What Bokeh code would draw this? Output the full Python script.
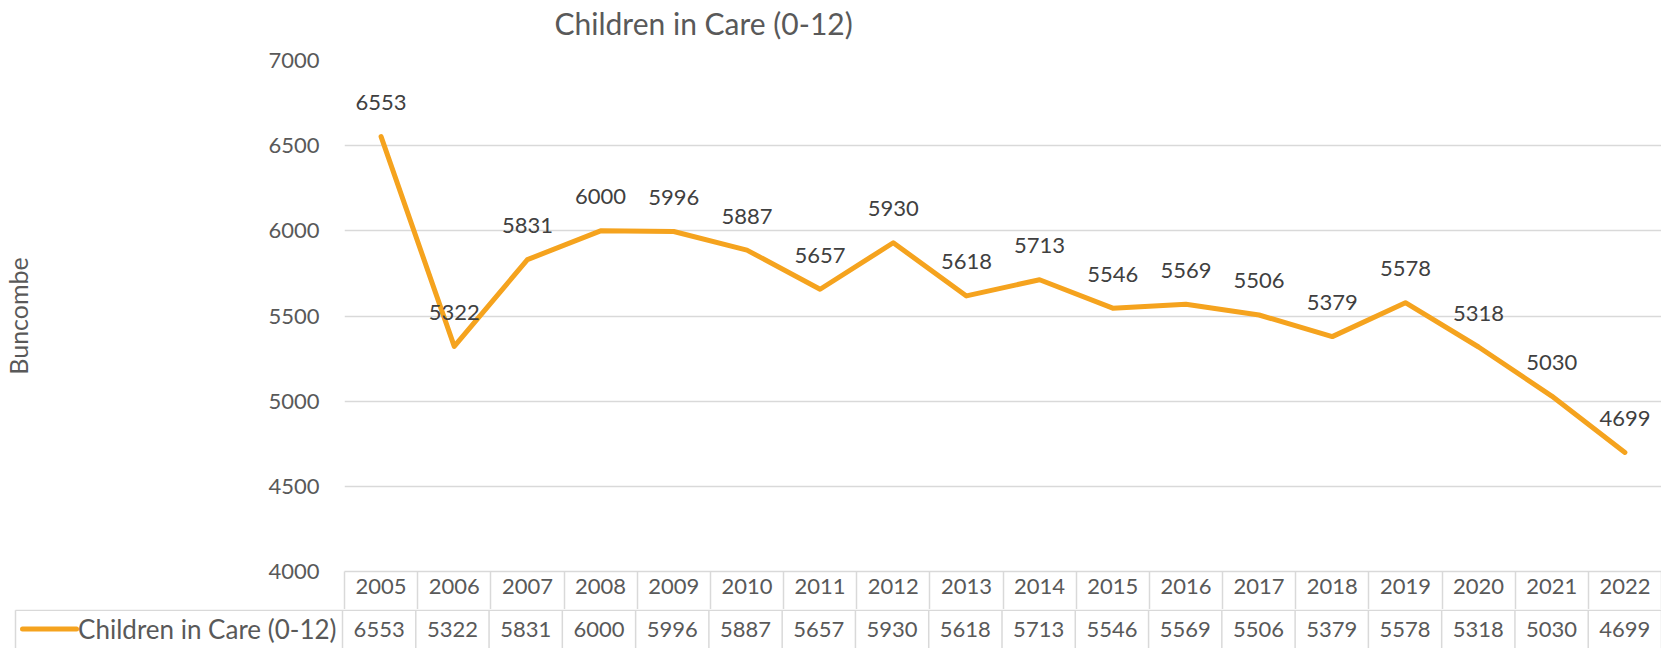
from bokeh.plotting import figure
from bokeh.models import Range1d, FixedTicker, ColumnDataSource
from bokeh.embed import file_html
from bokeh.resources import INLINE
from bokeh.core.properties import value

# ---- data ----
YEARS = ["2005", "2006", "2007", "2008", "2009", "2010", "2011", "2012", "2013",
         "2014", "2015", "2016", "2017", "2018", "2019", "2020", "2021", "2022"]
CHILDREN = [6553, 5322, 5831, 6000, 5996, 5887, 5657, 5930, 5618,
            5713, 5546, 5569, 5506, 5379, 5578, 5318, 5030, 4699]
Y_TICKS = [4000, 4500, 5000, 5500, 6000, 6500, 7000]
SERIES_NAME = "Children in Care (0-12)"
TITLE = "Children in Care (0-12)"
Y_LABEL = "Buncombe"

# ---- style ----
FONT = "Lato"
ORANGE = "#F5A31E"
GRID = "#d9d9d9"
GREY = "#595959"
DARK = "#404040"

W = 1661
H0 = 43             # title strip
LEFT = 342          # left edge of the plotting area
TOP = 60 - H0       # top of the plotting area inside the chart figure
ROW_H = 38          # height of one data-table row
H1 = 571 + ROW_H - H0   # chart + header row of the table
H2 = 39             # value row of the table
n = len(YEARS)
idx = list(range(n))
edges = [i - 0.5 for i in range(n + 1)]
u = (W - LEFT) / n  # pixels per category


def bare(fig):
    fig.outline_line_color = None
    fig.background_fill_color = "white"
    fig.border_fill_color = "white"


# ---- title strip ----
p0 = figure(width=W, height=H0, output_backend="svg", toolbar_location=None,
            x_range=Range1d(0, 1), y_range=Range1d(0, 1),
            x_axis_location=None, y_axis_location=None,
            min_border_left=0, min_border_right=0, min_border_top=0, min_border_bottom=0)
bare(p0)
p0.xgrid.grid_line_color = None
p0.ygrid.grid_line_color = None
p0.title.text = TITLE
p0.title.text_font = FONT
p0.title.text_font_size = "30px"
p0.title.text_font_style = "normal"
p0.title.text_color = GREY
p0.title.align = "left"
p0.title.offset = 554
p0.title.vertical_align = "middle"
p0.title.standoff = 6

# ---- chart ----
p1 = figure(width=W, height=H1, output_backend="svg", toolbar_location=None,
            x_range=Range1d(-0.5, n - 0.5), y_range=Range1d(Y_TICKS[0], Y_TICKS[-1]),
            min_border_left=LEFT, min_border_right=0,
            min_border_top=TOP, min_border_bottom=ROW_H)
bare(p1)

ax = p1.yaxis[0]
ax.ticker = FixedTicker(ticks=Y_TICKS)
ax.axis_line_color = None
ax.major_tick_line_color = None
ax.minor_tick_line_color = None
ax.major_tick_out = 0
ax.major_tick_in = 0
ax.major_label_standoff = 25
ax.major_label_text_font = FONT
ax.major_label_text_font_size = "22px"
ax.major_label_text_color = GREY
ax.axis_label = Y_LABEL
ax.axis_label_text_font = FONT
ax.axis_label_text_font_size = "25px"
ax.axis_label_text_font_style = "normal"
ax.axis_label_text_color = GREY
ax.axis_label_standoff = 232

# x axis = header row of the data table (years, cell borders as minor ticks)
xa = p1.xaxis[0]
xa.ticker = FixedTicker(ticks=idx, minor_ticks=edges)
xa.major_label_overrides = {i: y for i, y in zip(idx, YEARS)}
xa.axis_line_color = GRID
xa.axis_line_width = 1.5
xa.major_tick_line_color = None
xa.major_tick_out = 0
xa.major_tick_in = 0
xa.minor_tick_line_color = GRID
xa.minor_tick_line_width = 1.5
xa.minor_tick_out = ROW_H
xa.minor_tick_in = 0
xa.major_label_standoff = 7 - ROW_H
xa.major_label_text_font = FONT
xa.major_label_text_font_size = "22px"
xa.major_label_text_color = GREY

p1.xgrid.grid_line_color = None
p1.ygrid.ticker = FixedTicker(ticks=Y_TICKS)
p1.ygrid.grid_line_color = GRID
p1.ygrid.grid_line_width = 1.5

src = ColumnDataSource(dict(x=idx, y=CHILDREN, lab=[str(v) for v in CHILDREN]))
p1.line("x", "y", source=src, line_color=ORANGE, line_width=5,
        line_cap="round", line_join="round")
p1.text("x", "y", text="lab", source=src, y_offset=-34,
        text_align="center", text_baseline="middle",
        text_font=value(FONT), text_font_size="22px", text_color=DARK)

# ---- value row of the data table: same category scale, extended left for the key ----
x0 = -0.5 - LEFT / u
ROW_TOP, ROW_MID = 0.75, 19.5
p2 = figure(width=W, height=H2, output_backend="svg", toolbar_location=None,
            x_range=Range1d(x0, n - 0.5), y_range=Range1d(H2, 0),
            x_axis_location=None, y_axis_location=None,
            min_border_left=0, min_border_right=0, min_border_top=0, min_border_bottom=0)
bare(p2)
p2.xgrid.grid_line_color = None
p2.ygrid.grid_line_color = None

key_left = x0 + 15 / u
p2.segment(x0=edges + [key_left], y0=[ROW_TOP] * (len(edges) + 1),
           x1=edges + [key_left], y1=[H2] * (len(edges) + 1),
           line_color=GRID, line_width=1.5)
p2.segment(x0=[key_left], y0=[ROW_TOP], x1=[n - 0.5], y1=[ROW_TOP],
           line_color=GRID, line_width=1.5)

p2.text(x=idx, y=[ROW_MID] * n, text=[str(v) for v in CHILDREN], text_align="center",
        text_baseline="middle", text_font=value(FONT), text_font_size="22px", text_color=GREY)

p2.line(x=[x0 + 22 / u, x0 + 76 / u], y=[ROW_MID, ROW_MID], line_color=ORANGE,
        line_width=5, line_cap="round")
p2.text(x=[-0.5 - 6 / u], y=[ROW_MID], text=[SERIES_NAME], text_align="right",
        text_baseline="middle", text_font=value(FONT), text_font_size="26px", text_color=GREY)

open("out.html", "w").write(file_html([p0, p1, p2], INLINE))
